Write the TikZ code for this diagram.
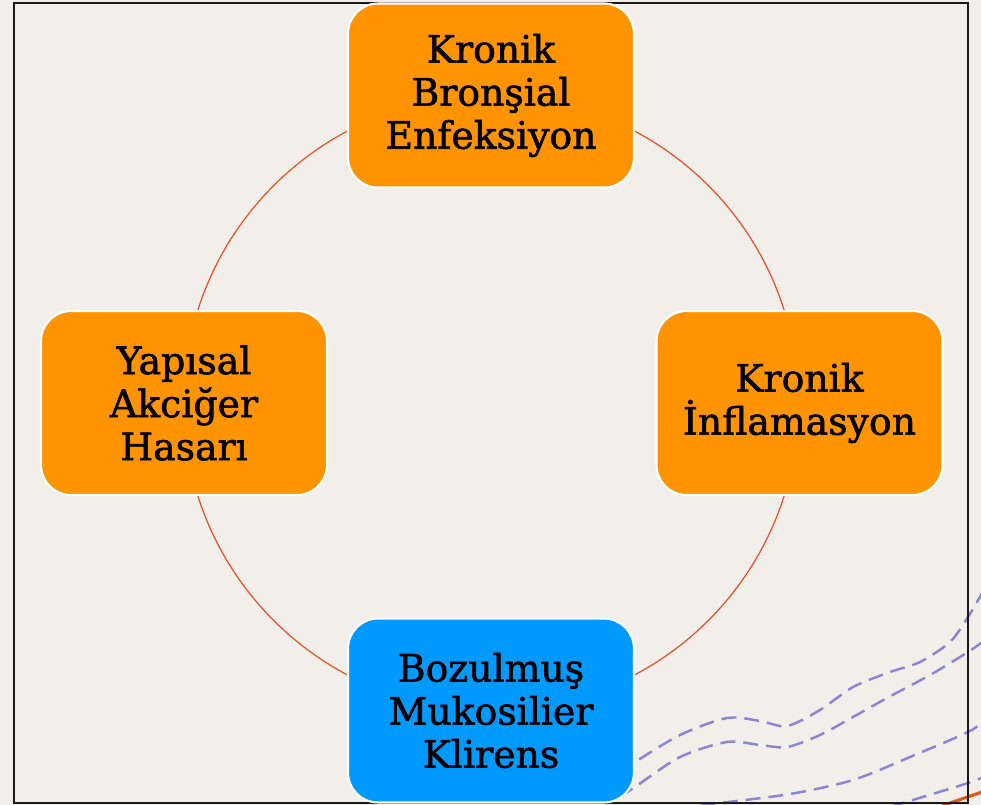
\documentclass[tikz,border=0pt]{standalone}
\usepackage{fontspec}
\setmainfont{DejaVu Serif}
\newfontfamily\boxfont{DejaVu Serif}[FakeBold=1.6]
\definecolor{bg}{HTML}{F2EFEA}
\definecolor{boxorange}{HTML}{FF9300}
\definecolor{boxblue}{HTML}{0099FF}
\definecolor{ringred}{HTML}{E5522A}
\definecolor{wavepurple}{HTML}{8C84D4}
\definecolor{cornerorange}{HTML}{E0581C}

\begin{document}
\begin{tikzpicture}[x=0.02cm,y=-0.02cm,
  box/.style={rectangle,rounded corners=0.6cm,draw=white,line width=1.2pt,
    minimum width=5.72cm,minimum height=3.68cm,align=center,
    font=\boxfont\fontsize{21.5}{24.5}\selectfont,text=black},
  wave/.style={wavepurple,line width=1.4pt,dash pattern=on 0.3cm off 0.16cm}]
\fill[bg] (0,0) rectangle (981,805);
\useasboundingbox (0,0) rectangle (981,805);
\clip (0,0) rectangle (981,805);
% wavy lines, bottom right
\draw[wave] plot[smooth] coordinates {(620,772) (635,762) (680,735) (727,718) (760,721) (787,726) (820,710) (853,687) (890,672) (920,662) (950,642) (968,617) (985,588)};
\draw[wave] plot[smooth] coordinates {(620,797) (635,787) (680,757) (727,742) (760,745) (787,747) (820,735) (853,717) (887,698) (930,675) (968,652) (985,640)};
\draw[wave] plot[smooth] coordinates {(700,806) (720,803) (790,794) (853,780) (910,757) (968,732) (985,720)};
\draw[wave] plot[smooth] coordinates {(890,807) (903,803) (968,783) (985,776)};
\draw[cornerorange,line width=1.8pt] (940,807) -- (950,803) -- (985,791);
% frame
\draw[black!90,line width=1.2pt] (14,3) rectangle (968,803);
% ring
\coordinate (center) at (491,403);
\draw[ringred,line width=0.7pt] (center) circle (6.15cm);
% boxes
\node (enf) at (491,95.5)  [box,fill=boxorange] {Kronik\\Bronşial\\Enfeksiyon};
\node (inf) at (799.5,403) [box,fill=boxorange] {Kronik\\İnflamasyon};
\node (kle) at (491,710.5) [box,fill=boxblue]   {Bozulmuş\\Mukosilier\\Klirens};
\node (has) at (184,403)   [box,fill=boxorange] {Yapısal\\Akciğer\\Hasarı};
\end{tikzpicture}
\end{document}
